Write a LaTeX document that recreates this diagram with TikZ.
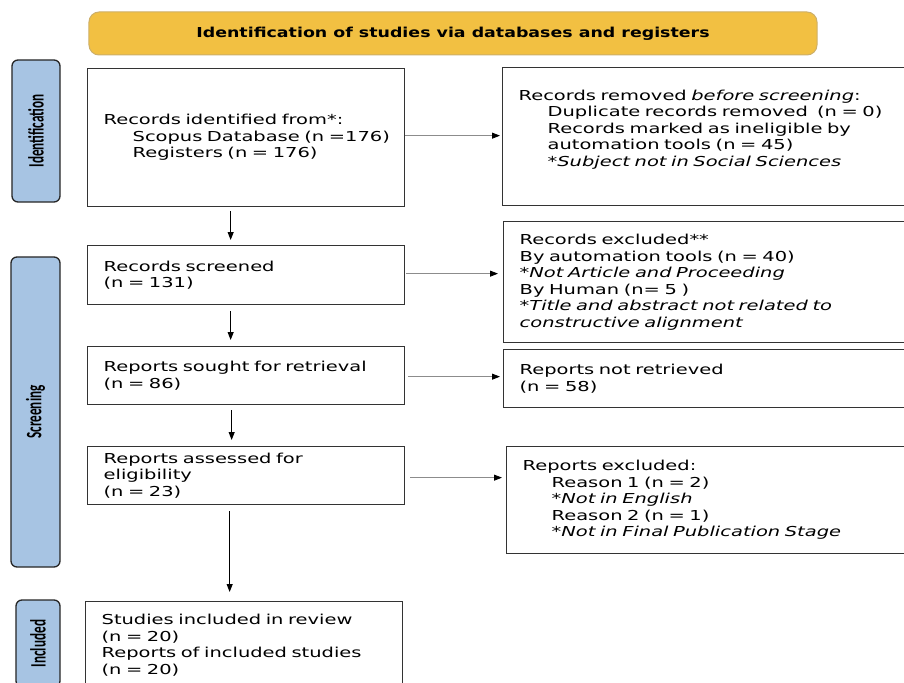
\documentclass[tikz,border=0pt]{standalone}
\usepackage{fontspec}
\usetikzlibrary{arrows.meta}

\newfontfamily\BoxFont{DejaVu Sans}[FakeStretch=1.42]
\newfontfamily\HeadFont{DejaVu Sans}[FakeStretch=1.27]
\newfontfamily\SideFont{Carlito}[FakeStretch=0.6]

\definecolor{BannerGold}{RGB}{242,192,66}
\definecolor{BannerEdge}{RGB}{205,175,105}
\definecolor{SideBlue}{RGB}{167,196,227}

\newcommand\MySub{\hspace*{29bp}}% indent of the sub lines

\begin{document}
\begin{tikzpicture}[
    % Environment Config
    x=1bp, y=1bp,
    font=\BoxFont\fontsize{13.7bp}{16.5bp}\selectfont,
    MyBox/.style={% Style for the flow boxes
      draw=black!80,
      line width=1.3bp,
      anchor=north west,
      align=left,
      inner xsep=16bp,
      inner ysep=0pt
    },
    Banner/.style={% Style for the title bar
      draw=BannerEdge,
      fill=BannerGold,
      line width=1bp,
      rounded corners=10bp,
      font=\HeadFont\bfseries\fontsize{13.7bp}{16bp}\selectfont
    },
    Side/.style={% Style for the stage labels
      draw=black!85,
      fill=SideBlue,
      line width=1.3bp,
      rounded corners=6bp,
      rotate=90,
      font=\SideFont\bfseries\fontsize{22bp}{24bp}\selectfont
    },
    MyArrow/.style={% Style for the downward flow
      -{Triangle[length=8bp,width=6bp]},
      black,
      line width=1bp
    },
    SideArrow/.style={% Style for the exclusion links
      -{Triangle[length=8bp,width=6bp,color=black]},
      black!45,
      line width=0.8bp
    }
  ]

  \useasboundingbox (0,0) rectangle (904,-683);

  %===Title bar===
  \node[Banner, minimum width=728bp, minimum height=43bp] (Head) at (453,-33.5)
    {Identification of studies via databases and registers};

  %===Stage labels===
  \node[Side, minimum width=142bp, minimum height=48bp] (SIdent) at (36,-131) {Identification};
  \node[Side, minimum width=310bp, minimum height=49bp] (SScreen) at (35.5,-412) {Screening};
  \node[Side, minimum width=87bp, minimum height=44bp] (SIncl) at (38,-643.5) {Included};

  %===Main column===
  \node[MyBox, text width=285bp, minimum height=138bp] (Ident) at (87,-68)
    {Records identified from*:\\
     \mbox{\MySub Scopus Database (n =176)}\\
     \MySub Registers (n = 176)};
  \node[MyBox, text width=285bp, minimum height=59bp] (Screened) at (87,-245)
    {Records screened\\
     (n = 131)};
  \node[MyBox, text width=285bp, minimum height=58bp] (Sought) at (87,-346)
    {Reports sought for retrieval\\
     (n = 86)};
  \node[MyBox, text width=285bp, minimum height=58bp] (Assessed) at (87,-446)
    {Reports assessed for\\
     eligibility\\
     (n = 23)};
  \node[MyBox, text width=285bp, minimum height=87bp] (Included) at (85,-601)
    {Studies included in review\\
     (n = 20)\\
     Reports of included studies\\
     (n = 20)};

  %===Side column===
  \node[MyBox, text width=372bp, minimum height=138bp, text depth=83bp] (Removed) at (502,-67)
    {Records removed \textit{before screening}:\\
     \MySub Duplicate records removed\ \ (n = 0)\\
     \MySub Records marked as ineligible by\\
     \MySub automation tools (n = 45)\\
     \MySub\textit{*Subject not in Social Sciences}};
  \node[MyBox, text width=371bp, minimum height=121bp] (Excluded) at (503,-221)
    {Records excluded**\\
     By automation tools (n = 40)\\
     \textit{*Not Article and Proceeding}\\
     By Human (n= 5 )\\
     \textit{*Title and abstract not related to}\\
     \textit{constructive alignment}};
  \node[MyBox, text width=371bp, minimum height=58bp] (NotRetr) at (503,-349)
    {Reports not retrieved\\
     (n = 58)};
  \node[MyBox, text width=368bp, minimum height=107bp] (RepExcl) at (506,-446)
    {Reports excluded:\\
     \MySub Reason 1 (n = 2)\\
     \MySub\textit{*Not in English}\\
     \MySub Reason 2 (n = 1)\\
     \MySub\textit{*Not in Final Publication Stage}};

  % Draw the downward arrows
  \draw[MyArrow, shorten <=4bp, shorten >=5bp]
  (Ident.south) ++(-15.5,0) coordinate (D1)
      -- (D1 |- Screened.north);
  \draw[MyArrow, shorten <=6bp, shorten >=6bp]
  (Screened.south) ++(-15.5,0) coordinate (D2)
      -- (D2 |- Sought.north);
  \draw[MyArrow, shorten <=5bp, shorten >=6bp]
  (Sought.south) ++(-14.5,0) coordinate (D3)
      -- (D3 |- Assessed.north);
  \draw[MyArrow, shorten <=6bp, shorten >=9bp]
  (Assessed.south) ++(-16.5,0) coordinate (D4)
      -- (D4 |- Included.north);

  % Draw the exclusion links
  \draw[SideArrow, shorten >=2bp]
  (Ident.east) ++(0,2) coordinate (H1)
      -- (H1 -| Removed.west);
  \draw[SideArrow, shorten <=1bp, shorten >=5bp]
  (Screened.east) ++(0,1.5) coordinate (H2)
      -- (H2 -| Excluded.west);
  \draw[SideArrow, shorten <=3bp, shorten >=3bp]
  (Sought.east) ++(0,-1) coordinate (H3)
      -- (H3 -| NotRetr.west);
  \draw[SideArrow, shorten <=5bp, shorten >=4bp]
  (Assessed.east) ++(0,-2) coordinate (H4)
      -- (H4 -| RepExcl.west);

\end{tikzpicture}
\end{document}
